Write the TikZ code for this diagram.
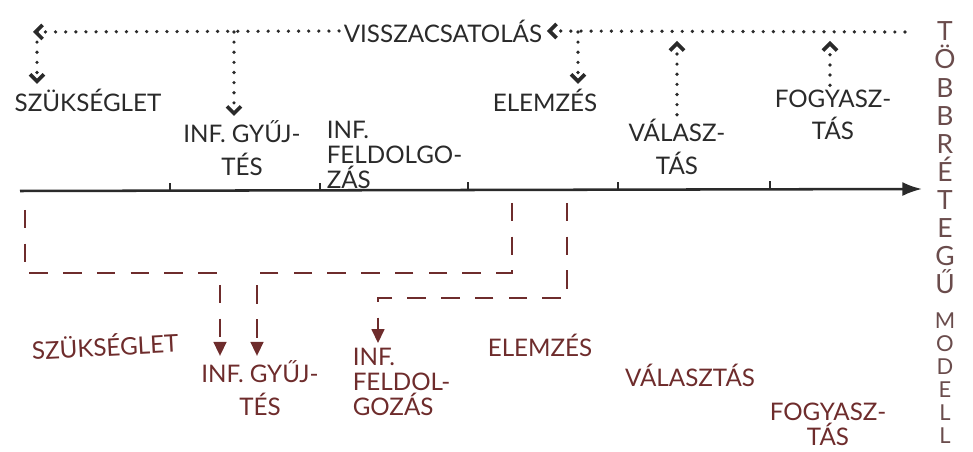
\documentclass[tikz,border=0pt]{standalone}
\usepackage{fontspec}
\setmainfont{Lato}
\usetikzlibrary{arrows.meta}
\definecolor{pen}{HTML}{2A2A2A}
\definecolor{redpen}{HTML}{6E2C2C}
\definecolor{sidepen}{HTML}{6A4C4C}
\tikzset{lab/.style = {text=pen, font=\fontsize{8.6}{11.5}\selectfont, inner sep=1.5pt, align=center}}
\tikzset{labr/.style = {lab, text=redpen}}
\tikzset{tight/.style = {font=\fontsize{8.6}{9}\selectfont}}
\tikzset{side/.style = {text=sidepen, inner sep=0pt, align=center}}
\tikzset{fb/.style = {pen, line width=1.3pt, line cap=round, dash pattern=on 0pt off 3.6pt}}
\tikzset{fbtip/.style = {-{Straight Barb[length=2.5pt,width=5pt]}}}
\tikzset{axis/.style = {pen, line width=0.9pt}}
\tikzset{feed/.style = {redpen, line width=0.9pt, dash pattern=on 6.5pt off 5.5pt}}
\tikzset{feedtip/.style = {-{Triangle[length=5pt,width=4.5pt]}}}

\begin{document}
\begin{tikzpicture}[x=0.0125cm, y=-0.0125cm]
  \useasboundingbox (0, 0) rectangle (973, 452);

  \node [lab] (vissza) at (443, 31) {VISSZACSATOLÁS};
  \node [lab] (szt) at (88, 100) {SZÜKSÉGLET};
  \node [lab] (gyt) at (242, 148) {INF. GYŰJ-\\TÉS};
  \node [lab, tight, align=left, anchor=west] (fdt) at (322, 155) {INF.\\FELDOLGO-\\ZÁS};
  \node [lab] (elt) at (545, 100) {ELEMZÉS};
  \node [lab] (vat) at (677, 147) {VÁLASZ-\\TÁS};
  \node [lab] (fot) at (833, 115) {FOGYASZ-\\TÁS};

  \coordinate (le) at (33, 32);
  \coordinate (re) at (905, 32);
  \coordinate (d1) at (37, 32);
  \coordinate (d2) at (234, 32);
  \coordinate (d3) at (578, 32);
  \coordinate (u1) at (677, 41);
  \coordinate (u2) at (830, 41);

  \draw [fb, fbtip] (vissza.west) -- (le);
  \draw [fb, fbtip] (re) -- (vissza.east);
  \draw [fb, fbtip] (d1) -- (d1 |- szt.north);
  \draw [fb, fbtip] (d2) -- (d2 |- gyt.north);
  \draw [fb, fbtip] (d3) -- (d3 |- elt.north);
  \draw [fb, fbtip] (u1 |- vat.north) -- (u1);
  \draw [fb, fbtip] (u2 |- fot.north) -- (u2);

  \coordinate (ax0) at (20, 191);
  \coordinate (ax1) at (922, 189);
  \draw [axis, -{Latex[length=7pt,width=5pt]}] (ax0) -- (ax1);
  \draw [axis] (170, 191) -- (170, 183);
  \draw [axis] (320, 191) -- (320, 183);
  \draw [axis] (468, 190) -- (468, 182);
  \draw [axis] (618, 190) -- (618, 182);
  \draw [axis] (770, 189) -- (770, 181);

  \node [labr, rotate=3] (szb) at (105, 345) {SZÜKSÉGLET};
  \node [labr] (gyb) at (260, 388) {INF. GYŰJ-\\TÉS};
  \node [labr, tight, align=left, anchor=west] (fdb) at (348, 382) {INF.\\FELDOL-\\GOZÁS};
  \node [labr] (elb) at (540, 345) {ELEMZÉS};
  \node [labr] (vab) at (690, 375) {VÁLASZTÁS};
  \node [labr, tight] (fob) at (828, 424) {FOGYASZ-\\TÁS};

  \coordinate (a0) at (25, 210);
  \coordinate (a1) at (220, 273);
  \coordinate (b0) at (512, 203);
  \coordinate (b1) at (257, 273);
  \coordinate (c0) at (567, 203);
  \coordinate (c1) at (378, 298);

  \draw [feed, feedtip] (a0) |- (a1) -- (a1 |- gyb.north);
  \draw [feed, feedtip] (b0) |- (b1) -- (b1 |- gyb.north);
  \draw [feed, feedtip] (c0) |- (c1) -- (c1 |- fdb.north);

  \node [side, font=\fontsize{9.4}{10}\selectfont] (side1) at (945, 158) {T\\Ö\\B\\B\\R\\É\\T\\E\\G\\Ű};
  \node [side, font=\fontsize{7.8}{8.2}\selectfont] (side2) at (945, 378) {M\\O\\D\\E\\L\\L};
\end{tikzpicture}
\end{document}
